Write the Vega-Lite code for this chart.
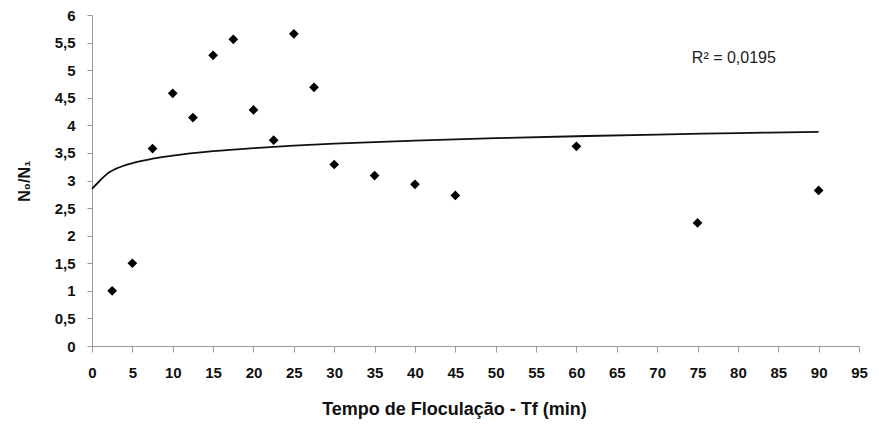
{
  "$schema": "https://vega.github.io/schema/vega-lite/v6.json",
  "width": 767,
  "height": 331,
  "autosize": {"type": "none"},
  "padding": {"left": 92, "top": 15, "right": 20, "bottom": 86},
  "background": "white",
  "config": {"view": {"stroke": null}, "font": "Liberation Sans"},
  "datasets": {
    "pts": [
      {"t": 2.5, "r": 1.0}, {"t": 5, "r": 1.5}, {"t": 7.5, "r": 3.58}, {"t": 10, "r": 4.58},
      {"t": 12.5, "r": 4.14}, {"t": 15, "r": 5.27}, {"t": 17.5, "r": 5.56}, {"t": 20, "r": 4.28},
      {"t": 22.5, "r": 3.73}, {"t": 25, "r": 5.66}, {"t": 27.5, "r": 4.69}, {"t": 30, "r": 3.29},
      {"t": 35, "r": 3.09}, {"t": 40, "r": 2.93}, {"t": 45, "r": 2.73}, {"t": 60, "r": 3.62},
      {"t": 75, "r": 2.23}, {"t": 90, "r": 2.82}
    ],
    "trend": [
      {"t": 0, "r": 2.85}, {"t": 1, "r": 3.0}, {"t": 2, "r": 3.136}, {"t": 3, "r": 3.215},
      {"t": 5, "r": 3.315}, {"t": 7.5, "r": 3.395}, {"t": 10, "r": 3.451}, {"t": 15, "r": 3.531},
      {"t": 20, "r": 3.587}, {"t": 25, "r": 3.631}, {"t": 30, "r": 3.667}, {"t": 40, "r": 3.723},
      {"t": 50, "r": 3.767}, {"t": 60, "r": 3.802}, {"t": 70, "r": 3.833}, {"t": 80, "r": 3.859},
      {"t": 90, "r": 3.882}
    ],
    "note": [{"t": 79.5, "r": 5.22, "label": "R² = 0,0195"}]
  },
  "encoding": {
    "x": {
      "field": "t", "type": "quantitative",
      "scale": {"domain": [0, 95], "nice": false, "zero": true},
      "axis": {
        "values": [0,5,10,15,20,25,30,35,40,45,50,55,60,65,70,75,80,85,90,95],
        "title": "Tempo de Floculação - Tf (min)",
        "titleFont": "Liberation Sans", "titleFontSize": 18, "titleFontWeight": "bold",
        "titleColor": "#111", "titlePadding": 20, "titleX": 362,
        "labelFont": "Liberation Sans", "labelFontSize": 15, "labelFontWeight": "bold",
        "labelColor": "#111", "labelPadding": 13, "labelFlush": false,
        "domainColor": "#999", "tickColor": "#999", "tickSize": 6, "grid": false
      }
    },
    "y": {
      "field": "r", "type": "quantitative",
      "scale": {"domain": [0, 6], "nice": false},
      "axis": {
        "values": [0,0.5,1,1.5,2,2.5,3,3.5,4,4.5,5,5.5,6],
        "labelExpr": "replace(format(datum.value, '~g'), '.', ',')",
        "title": "N₀/N₁",
        "titleFont": "Liberation Sans", "titleFontSize": 16, "titleFontWeight": "bold",
        "titleColor": "#111", "titlePadding": 22,
        "labelFont": "Liberation Sans", "labelFontSize": 15, "labelFontWeight": "bold",
        "labelColor": "#111", "labelPadding": 12, "labelFlush": false,
        "domainColor": "#999", "tickColor": "#999", "tickSize": 5, "grid": false
      }
    }
  },
  "layer": [
    {
      "data": {"name": "trend"},
      "mark": {"type": "line", "color": "#111", "strokeWidth": 1.8, "interpolate": "monotone"}
    },
    {
      "data": {"name": "pts"},
      "mark": {"type": "point", "shape": "diamond", "filled": true, "color": "#000", "size": 95, "opacity": 1}
    },
    {
      "data": {"name": "note"},
      "mark": {"type": "text", "font": "Liberation Sans", "fontSize": 16, "color": "#222", "align": "center", "baseline": "middle"},
      "encoding": {"text": {"field": "label"}}
    }
  ]
}
